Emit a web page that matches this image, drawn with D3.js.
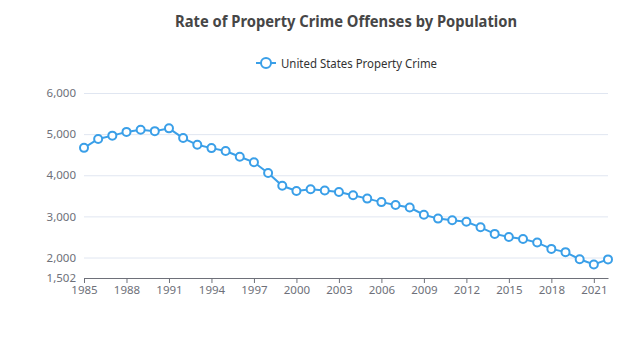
<!DOCTYPE html>
<html>
<head>
<meta charset="utf-8">
<script src="https://cdn.jsdelivr.net/npm/d3@7"></script>
<style>
  body { margin: 0; background: #fff; }
  text { font-family: "Noto Sans", "Open Sans", sans-serif; }
</style>
</head>
<body>
<svg id="chart" width="644" height="345"></svg>
<script>
'use strict';

// Data
const years = [1985, 1986, 1987, 1988, 1989, 1990, 1991, 1992, 1993, 1994,
    1995, 1996, 1997, 1998, 1999, 2000, 2001, 2002, 2003, 2004,
    2005, 2006, 2007, 2008, 2009, 2010, 2011, 2012, 2013, 2014,
    2015, 2016, 2017, 2018, 2019, 2020, 2021, 2022];
const rates = [4666, 4882, 4963, 5054, 5107, 5073, 5140, 4904, 4740, 4660,
    4591, 4451, 4316, 4053, 3744, 3618, 3658, 3631, 3591, 3514,
    3432, 3347, 3276, 3215, 3041, 2946, 2905, 2868, 2734, 2574,
    2501, 2452, 2363, 2210, 2131, 1958, 1832, 1954];
const xTicks = [1985, 1988, 1991, 1994, 1997, 2000, 2003, 2006, 2009, 2012, 2015, 2018, 2021];
const yTicks = [1502, 2000, 3000, 4000, 5000, 6000];
const seriesName = 'United States Property Crime';
const title = 'Rate of Property Crime Offenses by Population';

(function () {

    const svg = d3.select('#chart');
    const color = '#3a9fe8';

    // Plot area
    const left = 84, right = 608, top = 93, bottom = 278;

    const scX = d3.scaleLinear().domain([1985, 2022]).range([left, right]);
    const scY = d3.scaleLinear().domain([1502, 6000]).range([bottom, top]);

    // Title
    svg.append('text')
        .attr('x', (left + right) / 2)
        .attr('y', 27)
        .attr('text-anchor', 'middle')
        .attr('textLength', 342)
        .attr('lengthAdjust', 'spacingAndGlyphs')
        .style('font-size', '16.5px')
        .style('font-weight', 'bold')
        .style('fill', '#464646')
        .text(title);

    // Legend
    const lg = svg.append('g').attr('transform', 'translate(256, 63)');
    lg.append('line')
        .attr('x1', 0).attr('x2', 20)
        .style('stroke', color).style('stroke-width', 2);
    lg.append('circle')
        .attr('cx', 10).attr('r', 5)
        .style('fill', '#fff').style('stroke', color).style('stroke-width', 2);
    lg.append('text')
        .attr('x', 25).attr('y', 4.5)
        .attr('textLength', 156)
        .attr('lengthAdjust', 'spacingAndGlyphs')
        .style('font-size', '12px')
        .style('fill', '#333')
        .text(seriesName);

    // Grid lines + y labels
    const yAxis = svg.append('g')
        .attr('transform', `translate(${left}, 0)`)
        .call(d3.axisLeft(scY)
            .tickValues(yTicks)
            .tickSize(-(right - left))
            .tickPadding(8)
            .tickFormat(d3.format(',')));
    yAxis.select('.domain').remove();
    yAxis.selectAll('.tick line')
        .style('stroke', (d) => d === 1502 ? 'none' : '#e0e6f1');
    yAxis.selectAll('.tick text')
        .style('font-size', '11.5px')
        .style('fill', '#6e7079')
        .style('font-family', '"Noto Sans", sans-serif');

    // X axis
    const xAxis = svg.append('g')
        .attr('transform', `translate(0, ${bottom})`)
        .call(d3.axisBottom(scX)
            .tickValues(xTicks)
            .tickSizeOuter(0)
            .tickSizeInner(5)
            .tickPadding(3)
            .tickFormat(d3.format('d')));
    xAxis.select('.domain').style('stroke', '#6e7079');
    xAxis.selectAll('.tick line').style('stroke', '#6e7079');
    xAxis.selectAll('.tick text')
        .style('font-size', '11.5px')
        .style('fill', '#6e7079')
        .style('font-family', '"Noto Sans", sans-serif');

    // Line
    const pts = years.map((y, i) => ({ year: y, rate: rates[i] }));
    svg.append('path')
        .datum(pts)
        .attr('d', d3.line().x((d) => scX(d.year)).y((d) => scY(d.rate)))
        .style('fill', 'none')
        .style('stroke', color)
        .style('stroke-width', 2);

    // Dots
    svg.selectAll('.dot')
        .data(pts)
        .enter()
        .append('circle')
            .attr('class', 'dot')
            .attr('cx', (d) => scX(d.year))
            .attr('cy', (d) => scY(d.rate))
            .attr('r', 4)
            .style('fill', '#fff')
            .style('stroke', color)
            .style('stroke-width', 2);

})();
</script>
</body>
</html>
